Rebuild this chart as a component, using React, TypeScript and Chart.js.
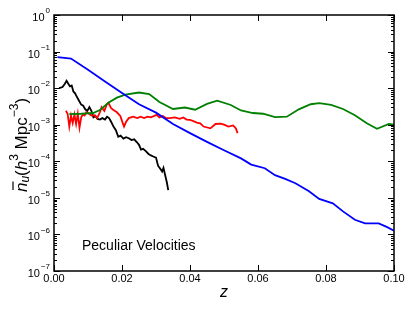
import React, { useEffect, useRef } from 'react';
import { Chart, registerables } from 'chart.js';

Chart.register(...registerables);

// ---- data (z, log10 of number density) ----
const blueZ = [0.001, 0.005, 0.010, 0.015, 0.020, 0.025, 0.030, 0.035, 0.040, 0.045, 0.050, 0.055, 0.058, 0.062, 0.065, 0.068, 0.071, 0.075, 0.078, 0.082, 0.085, 0.0885, 0.0915, 0.0955, 0.098, 0.100];
const blueLog = [-1.15, -1.19, -1.50, -1.82, -2.13, -2.44, -2.67, -2.98, -3.23, -3.47, -3.70, -3.92, -4.09, -4.19, -4.38, -4.48, -4.60, -4.82, -5.03, -5.15, -5.37, -5.60, -5.70, -5.70, -5.80, -5.90];

const greenZ = [0.0045, 0.008, 0.0115, 0.0135, 0.016, 0.0185, 0.021, 0.025, 0.028, 0.031, 0.035, 0.0385, 0.0415, 0.045, 0.048, 0.052, 0.055, 0.0585, 0.0615, 0.065, 0.0685, 0.072, 0.0755, 0.078, 0.0815, 0.085, 0.0885, 0.092, 0.095, 0.0985, 0.100];
const greenLog = [-2.71, -2.70, -2.68, -2.60, -2.40, -2.26, -2.18, -2.12, -2.16, -2.38, -2.57, -2.53, -2.59, -2.43, -2.34, -2.46, -2.61, -2.68, -2.70, -2.79, -2.78, -2.58, -2.44, -2.41, -2.46, -2.57, -2.74, -2.96, -3.11, -2.98, -3.00];

const redZ = [0.0035, 0.0040, 0.0045, 0.0050, 0.0055, 0.0060, 0.0065, 0.0070, 0.0075, 0.0080, 0.0085, 0.0090, 0.0095, 0.0100, 0.0110, 0.0120, 0.0127, 0.0135, 0.0140, 0.0148, 0.0155, 0.0160, 0.0168, 0.0175, 0.0185, 0.0195, 0.0202, 0.0206, 0.0212, 0.0220, 0.0233, 0.0245, 0.0255, 0.0265, 0.0275, 0.0285, 0.0295, 0.0302, 0.0310, 0.0320, 0.0330, 0.0341, 0.0355, 0.0370, 0.0380, 0.0390, 0.0400, 0.0410, 0.0420, 0.0430, 0.0440, 0.0460, 0.0475, 0.0490, 0.0500, 0.0513, 0.0527, 0.0535, 0.0540];
const redLog = [-2.62, -2.70, -3.05, -2.75, -2.95, -2.72, -2.98, -2.70, -3.08, -2.80, -2.72, -2.75, -2.66, -2.68, -2.75, -2.74, -2.82, -2.66, -2.52, -2.62, -2.45, -2.40, -2.55, -2.60, -2.66, -2.76, -2.95, -3.05, -2.92, -2.82, -2.78, -2.82, -2.78, -2.82, -2.78, -2.80, -2.76, -2.73, -2.80, -2.76, -2.82, -2.82, -2.80, -2.84, -2.80, -2.86, -2.87, -2.90, -2.94, -2.96, -3.05, -3.10, -2.98, -2.97, -3.00, -3.05, -3.02, -3.10, -3.23];

const blackZ = [0.0015, 0.0025, 0.0032, 0.0037, 0.0042, 0.0047, 0.0052, 0.0057, 0.0062, 0.0068, 0.0074, 0.0080, 0.0086, 0.0092, 0.0098, 0.0104, 0.0110, 0.0116, 0.0122, 0.0128, 0.0135, 0.0142, 0.0150, 0.0156, 0.0162, 0.0168, 0.0175, 0.0182, 0.0189, 0.0196, 0.0204, 0.0212, 0.0220, 0.0228, 0.0236, 0.0244, 0.0250, 0.0256, 0.0262, 0.0270, 0.0278, 0.0285, 0.0292, 0.0300, 0.0306, 0.0312, 0.0318, 0.0322, 0.0327, 0.0332, 0.0336];
const blackLog = [-2.00, -1.97, -1.88, -1.80, -1.88, -1.95, -1.93, -2.09, -2.14, -2.25, -2.35, -2.45, -2.48, -2.58, -2.62, -2.52, -2.62, -2.80, -2.76, -2.84, -2.86, -2.82, -2.86, -2.78, -2.82, -2.92, -3.05, -3.15, -3.33, -3.30, -3.38, -3.34, -3.37, -3.42, -3.40, -3.48, -3.55, -3.68, -3.66, -3.72, -3.80, -3.84, -3.87, -3.90, -4.12, -4.20, -4.28, -4.18, -4.38, -4.58, -4.79];

const xTicks = [0, 0.02, 0.04, 0.06, 0.08, 0.1];
const xTickLabels = ['0.00', '0.02', '0.04', '0.06', '0.08', '0.10'];
const yExponents = [0, -1, -2, -3, -4, -5, -6, -7];

const annotationText = 'Peculiar Velocities';

const FONT = '"Liberation Sans", Arial, sans-serif';

function toPoints(zs: number[], logs: number[]) {
  return zs.map((z, i) => ({ x: z, y: Math.pow(10, logs[i]) }));
}

const axesPlugin = {
  id: 'axesPlugin',
  afterDatasetsDraw(chart: any) {
    const { ctx, chartArea: a, scales } = chart;
    const xs = scales.x;
    const ys = scales.y;
    ctx.save();
    ctx.strokeStyle = '#000';
    ctx.fillStyle = '#000';

    // ticks
    ctx.lineWidth = 1;
    const line = (x1: number, y1: number, x2: number, y2: number) => {
      ctx.beginPath();
      ctx.moveTo(x1, y1);
      ctx.lineTo(x2, y2);
      ctx.stroke();
    };
    for (const v of xTicks) {
      const px = Math.round(xs.getPixelForValue(v)) + 0.5;
      line(px, a.bottom, px, a.bottom - 6);
      line(px, a.top, px, a.top + 6);
    }
    for (const e of yExponents) {
      const py = Math.round(ys.getPixelForValue(Math.pow(10, e))) + 0.5;
      line(a.left, py, a.left + 6, py);
      line(a.right, py, a.right - 6, py);
      if (e > -7) {
        for (let m = 2; m <= 9; m++) {
          const my = Math.round(ys.getPixelForValue(m * Math.pow(10, e - 1))) + 0.5;
          line(a.left, my, a.left + 3, my);
          line(a.right, my, a.right - 3, my);
        }
      }
    }

    // frame
    ctx.lineWidth = 1.5;
    ctx.strokeRect(a.left, a.top, a.right - a.left, a.bottom - a.top);

    // x tick labels
    ctx.font = `11px ${FONT}`;
    ctx.textAlign = 'center';
    ctx.textBaseline = 'middle';
    xTicks.forEach((v, i) => {
      ctx.fillText(xTickLabels[i], xs.getPixelForValue(v), a.bottom + 8);
    });

    // y tick labels 10^e
    for (const e of yExponents) {
      const py = ys.getPixelForValue(Math.pow(10, e));
      const base = '10';
      const exp = e === 0 ? '0' : '\u2212' + String(-e);
      ctx.font = `11px ${FONT}`;
      const bw = ctx.measureText(base).width;
      ctx.font = `8px ${FONT}`;
      const ew = ctx.measureText(exp).width;
      const right = a.left - 4;
      const x0 = right - ew - bw - 1;
      ctx.textAlign = 'left';
      ctx.textBaseline = 'middle';
      ctx.font = `11px ${FONT}`;
      ctx.fillText(base, x0, py + 3);
      ctx.font = `8px ${FONT}`;
      ctx.fillText(exp, x0 + bw + 1, py - 4);
    }

    // x title
    ctx.font = `italic 16px ${FONT}`;
    ctx.textAlign = 'center';
    ctx.textBaseline = 'middle';
    ctx.fillText('z', (a.left + a.right) / 2, a.bottom + 22);

    // annotation
    ctx.font = `14px ${FONT}`;
    ctx.textAlign = 'left';
    ctx.fillText(annotationText, a.left + 28, a.bottom - 25);

    // y title (rotated)
    const pieces = [
      { t: 'n', f: `italic 17px ${FONT}`, dy: 0, bar: true },
      { t: 'u', f: `italic 12px ${FONT}`, dy: 4, bar: false },
      { t: '(', f: `17px ${FONT}`, dy: 0, bar: false },
      { t: 'h', f: `italic 17px ${FONT}`, dy: 0, bar: false },
      { t: '3', f: `12px ${FONT}`, dy: -7, bar: false },
      { t: ' Mpc', f: `17px ${FONT}`, dy: 0, bar: false },
      { t: '\u22123', f: `12px ${FONT}`, dy: -7, bar: false },
      { t: ')', f: `17px ${FONT}`, dy: 0, bar: false },
    ];
    let total = 0;
    const widths = pieces.map((p) => {
      ctx.font = p.f;
      const w = ctx.measureText(p.t).width;
      total += w;
      return w;
    });
    ctx.translate(22, (a.top + a.bottom) / 2 + 2);
    ctx.rotate(-Math.PI / 2);
    let cx = -total / 2;
    ctx.textAlign = 'left';
    ctx.textBaseline = 'middle';
    pieces.forEach((p, i) => {
      ctx.font = p.f;
      ctx.fillText(p.t, cx, p.dy);
      if (p.bar) {
        ctx.lineWidth = 1.2;
        line(cx + 2, -9, cx + widths[i] + 1, -9);
      }
      cx += widths[i];
    });
    ctx.restore();
  },
};

export default function App() {
  const ref = useRef<HTMLCanvasElement | null>(null);
  useEffect(() => {
    if (!ref.current) return;
    const mk = (data: any[], color: string) => ({
      data,
      borderColor: color,
      backgroundColor: color,
      borderWidth: 1.8,
      pointRadius: 0,
      tension: 0,
      fill: false,
    });
    const chart = new Chart(ref.current, {
      type: 'line',
      data: {
        datasets: [
          mk(toPoints(blueZ, blueLog), '#0000ff'),
          mk(toPoints(greenZ, greenLog), '#008000'),
          mk(toPoints(redZ, redLog), '#ff0000'),
          mk(toPoints(blackZ, blackLog), '#000000'),
        ],
      },
      options: {
        responsive: false,
        animation: false,
        events: [],
        layout: { padding: { left: 54, right: 21, top: 15, bottom: 41 } },
        plugins: { legend: { display: false }, tooltip: { enabled: false } },
        scales: {
          x: { type: 'linear', min: 0, max: 0.1, display: false },
          y: { type: 'logarithmic', min: 1e-7, max: 1, display: false },
        },
      },
      plugins: [axesPlugin],
    });
    return () => chart.destroy();
  }, []);
  return (
    <div style={{ position: 'fixed', left: 0, top: 0, width: 415, height: 312, background: '#fff' }}>
      <canvas ref={ref} width={415} height={312} />
    </div>
  );
}
